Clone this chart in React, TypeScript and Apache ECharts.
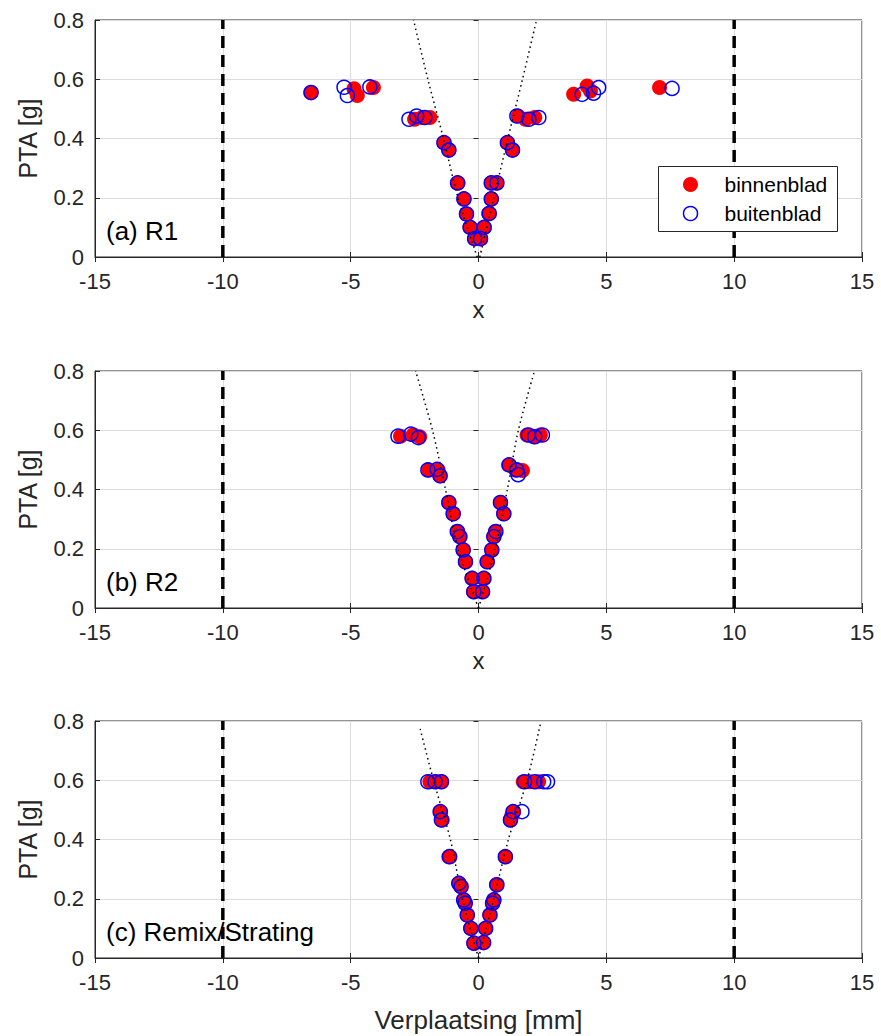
import React, { useEffect, useRef } from "react";
import * as echarts from "echarts";

// Axis ranges / ticks
const X_MIN = -15;
const X_MAX = 15;
const X_STEP = 5;
const Y_MIN = 0;
const Y_MAX = 0.8;
const Y_STEP = 0.2;
const LIMIT_LINES = [-10, 10];

const SERIES_NAMES = ["binnenblad", "buitenblad"];
const PANEL_LABELS = ["(a) R1", "(b) R2", "(c) Remix/Strating"];
const X_NAMES = ["x", "x", "Verplaatsing [mm]"];
const Y_NAME = "PTA [g]";

// Panel (a) R1
const P1_RED = [
  [-6.55, 0.555], [-4.87, 0.568], [-4.74, 0.545], [-4.11, 0.572],
  [-2.5, 0.465], [-2.2, 0.471], [-1.9, 0.471], [-1.35, 0.386], [-1.16, 0.361],
  [-0.8, 0.25], [-0.57, 0.196], [-0.47, 0.145], [-0.33, 0.1], [-0.15, 0.062],
  [0.08, 0.062], [0.22, 0.1], [0.4, 0.147], [0.5, 0.196], [0.5, 0.25], [0.7, 0.25],
  [1.13, 0.386], [1.33, 0.361], [1.55, 0.476], [1.84, 0.465], [2.2, 0.471],
  [3.72, 0.549], [4.25, 0.577], [4.38, 0.56], [7.08, 0.572],
];
const P1_BLUE = [
  [-6.55, 0.555], [-5.26, 0.573], [-5.13, 0.545], [-4.25, 0.574],
  [-2.72, 0.465], [-2.42, 0.476], [-2.1, 0.471], [-1.35, 0.386], [-1.16, 0.361],
  [-0.82, 0.25], [-0.57, 0.196], [-0.47, 0.145], [-0.33, 0.1], [-0.15, 0.062],
  [0.08, 0.062], [0.22, 0.1], [0.42, 0.147], [0.5, 0.196], [0.5, 0.25], [0.72, 0.25],
  [1.13, 0.386], [1.33, 0.361], [1.5, 0.476], [1.97, 0.465], [2.36, 0.471],
  [4.05, 0.549], [4.5, 0.553], [4.7, 0.572], [7.57, 0.569],
];
const P1_FIT_L = [[-0.05, 0], [-0.8, 0.2], [-1.37, 0.4], [-1.98, 0.6], [-2.54, 0.8]];
const P1_FIT_R = [[0.05, 0], [0.6, 0.2], [1.15, 0.4], [1.72, 0.6], [2.27, 0.8]];

// Panel (b) R2
const P2_RED = [
  [-3.05, 0.58], [-2.55, 0.585], [-2.3, 0.578], [-1.94, 0.466], [-1.58, 0.466],
  [-1.52, 0.448], [-1.16, 0.356], [-0.99, 0.318], [-0.81, 0.258], [-0.73, 0.241],
  [-0.6, 0.196], [-0.51, 0.156], [-0.25, 0.1], [-0.2, 0.055], [0.14, 0.055],
  [0.21, 0.1], [0.34, 0.156], [0.52, 0.196], [0.6, 0.241], [0.66, 0.258],
  [0.86, 0.356], [0.99, 0.318], [1.18, 0.483], [1.45, 0.466], [1.72, 0.464],
  [1.9, 0.584], [2.16, 0.578], [2.42, 0.584],
];
const P2_BLUE = [
  [-3.15, 0.58], [-2.65, 0.587], [-2.35, 0.575], [-1.98, 0.466], [-1.62, 0.468],
  [-1.5, 0.446], [-1.16, 0.356], [-0.99, 0.318], [-0.83, 0.258], [-0.73, 0.241],
  [-0.6, 0.196], [-0.51, 0.156], [-0.25, 0.1], [-0.18, 0.055], [0.16, 0.055],
  [0.21, 0.1], [0.34, 0.156], [0.52, 0.196], [0.6, 0.241], [0.68, 0.258],
  [0.86, 0.356], [0.99, 0.318], [1.2, 0.483], [1.5, 0.466], [1.55, 0.45],
  [1.95, 0.584], [2.2, 0.578], [2.5, 0.584],
];
const P2_FIT_L = [[0, 0], [-0.8, 0.2], [-1.29, 0.4], [-1.8, 0.6], [-2.46, 0.8]];
const P2_FIT_R = [[0, 0], [0.66, 0.2], [1.13, 0.4], [1.56, 0.6], [2.19, 0.8]];

// Panel (c) Remix/Strating
const P3_RED = [
  [-1.9, 0.595], [-1.65, 0.595], [-1.45, 0.595], [-1.48, 0.494], [-1.42, 0.466],
  [-1.16, 0.342], [-0.77, 0.252], [-0.7, 0.241], [-0.57, 0.196], [-0.52, 0.185],
  [-0.44, 0.145], [-0.31, 0.1], [-0.18, 0.05], [0.18, 0.052], [0.27, 0.1],
  [0.44, 0.145], [0.6, 0.196], [0.55, 0.185], [0.7, 0.247], [1.05, 0.342],
  [1.3, 0.48], [1.38, 0.494], [1.25, 0.466], [1.75, 0.595], [2.0, 0.595], [2.35, 0.595],
];
const P3_BLUE = [
  [-1.98, 0.595], [-1.7, 0.595], [-1.45, 0.595], [-1.5, 0.494], [-1.45, 0.466], [-1.13, 0.342],
  [-0.77, 0.252], [-0.68, 0.241], [-0.58, 0.196], [-0.52, 0.185], [-0.44, 0.145],
  [-0.3, 0.1], [-0.18, 0.05], [0.2, 0.052], [0.28, 0.1], [0.45, 0.145],
  [0.6, 0.196], [0.55, 0.185], [0.72, 0.247], [1.05, 0.342], [1.7, 0.494],
  [1.35, 0.494], [1.25, 0.466], [1.8, 0.595], [2.2, 0.595], [2.55, 0.595], [2.7, 0.595],
];
const P3_FIT_L = [[0, 0], [-0.63, 0.2], [-1.1, 0.4], [-1.76, 0.6], [-2.3, 0.78]];
const P3_FIT_R = [[0, 0], [0.6, 0.2], [1.17, 0.4], [1.9, 0.6], [2.42, 0.79]];

const PANELS = [
  { red: P1_RED, blue: P1_BLUE, fitL: P1_FIT_L, fitR: P1_FIT_R },
  { red: P2_RED, blue: P2_BLUE, fitL: P2_FIT_L, fitR: P2_FIT_R },
  { red: P3_RED, blue: P3_BLUE, fitL: P3_FIT_L, fitR: P3_FIT_R },
];

const GRID_TOPS = [20, 371, 721];
const GRID_H = 237;
const GRID_LEFT = 95;
const GRID_RIGHT = 19;
const FONT = "'Liberation Sans', Arial, sans-serif";
const TEXT_COLOR = "#262626";

export default function App() {
  const ref = useRef<HTMLDivElement>(null);
  useEffect(() => {
    if (!ref.current) return;
    const chart = echarts.init(ref.current, undefined, { renderer: "svg" });

    const grid: any[] = [];
    const xAxis: any[] = [];
    const yAxis: any[] = [];
    const series: any[] = [];
    const graphic: any[] = [];

    PANELS.forEach((p, i) => {
      grid.push({
        left: GRID_LEFT,
        right: GRID_RIGHT,
        top: GRID_TOPS[i],
        height: GRID_H,
        show: true,
        borderColor: TEXT_COLOR,
        borderWidth: 1,
        backgroundColor: "#fff",
      });
      const xi = xAxis.length;
      xAxis.push({
        type: "value",
        gridIndex: i,
        min: X_MIN,
        max: X_MAX,
        interval: X_STEP,
        position: "bottom",
        name: X_NAMES[i],
        nameLocation: "middle",
        nameMoveOverlap: false,
        nameGap: i === 2 ? 48 : 44,
        nameTextStyle: {
          fontFamily: FONT,
          fontSize: i === 2 ? 26 : 24,
          lineHeight: i === 2 ? 28 : 16,
          color: TEXT_COLOR,
          verticalAlign: "top",
        },
        axisLine: { show: true, onZero: false, lineStyle: { color: TEXT_COLOR } },
        axisTick: { show: true, inside: true, length: 5, lineStyle: { color: TEXT_COLOR } },
        axisLabel: { fontFamily: FONT, fontSize: 22, color: TEXT_COLOR, margin: 13 },
        splitLine: { show: true, lineStyle: { color: "#dcdcdc", width: 1 } },
      });
      xAxis.push({
        type: "value",
        gridIndex: i,
        min: X_MIN,
        max: X_MAX,
        interval: X_STEP,
        position: "top",
        axisLine: { show: false },
        axisTick: { show: true, inside: true, length: 5, lineStyle: { color: TEXT_COLOR } },
        axisLabel: { show: false },
        splitLine: { show: false },
      });
      const yi = yAxis.length;
      yAxis.push({
        type: "value",
        gridIndex: i,
        min: Y_MIN,
        max: Y_MAX,
        interval: Y_STEP,
        position: "left",
        name: Y_NAME,
        nameLocation: "middle",
        nameRotate: 90,
        nameGap: 55,
        nameTextStyle: { fontFamily: FONT, fontSize: 25, color: TEXT_COLOR },
        axisLine: { show: true, onZero: false, lineStyle: { color: TEXT_COLOR } },
        axisTick: { show: true, inside: true, length: 5, lineStyle: { color: TEXT_COLOR } },
        axisLabel: { fontFamily: FONT, fontSize: 22, color: TEXT_COLOR, margin: 11 },
        splitLine: { show: true, lineStyle: { color: "#dcdcdc", width: 1 } },
      });
      yAxis.push({
        type: "value",
        gridIndex: i,
        min: Y_MIN,
        max: Y_MAX,
        interval: Y_STEP,
        position: "right",
        axisLine: { show: false },
        axisTick: { show: true, inside: true, length: 5, lineStyle: { color: TEXT_COLOR } },
        axisLabel: { show: false },
        splitLine: { show: false },
      });

      LIMIT_LINES.forEach((lx) => {
        series.push({
          type: "line",
          xAxisIndex: xi,
          yAxisIndex: yi,
          data: [[lx, Y_MIN], [lx, Y_MAX]],
          symbol: "none",
          silent: true,
          lineStyle: { color: "#000", width: 3.5, type: [12, 7] },
          z: 3,
        });
      });

      series.push({
        type: "scatter",
        name: SERIES_NAMES[0],
        xAxisIndex: xi,
        yAxisIndex: yi,
        data: p.red,
        symbol: "circle",
        symbolSize: 15,
        itemStyle: { color: "#ff0000", opacity: 1 },
        z: 4,
      });
      series.push({
        type: "scatter",
        name: SERIES_NAMES[1],
        xAxisIndex: xi,
        yAxisIndex: yi,
        data: p.blue,
        symbol: "circle",
        symbolSize: 14,
        itemStyle: { color: "transparent", borderColor: "#0000ff", borderWidth: 1.5, opacity: 1 },
        z: 5,
      });
      [p.fitL, p.fitR].forEach((fit) => {
        series.push({
          type: "line",
          xAxisIndex: xi,
          yAxisIndex: yi,
          data: fit,
          symbol: "none",
          smooth: 0.3,
          silent: true,
          lineStyle: { color: "#000", width: 1.5, type: [1.5, 3.5] },
          z: 6,
        });
      });

      graphic.push({
        type: "text",
        left: 106,
        top: GRID_TOPS[i] + GRID_H - 39,
        z: 100,
        style: { text: PANEL_LABELS[i], fontFamily: FONT, fontSize: 26, fill: "#000" },
      });
    });

    // Legend box (panel a)
    const LZ = 200;
    graphic.push({
      type: "group",
      left: 658,
      top: 166,
      z: LZ,
      children: [
        { type: "rect", z: LZ, shape: { x: 0, y: 0, width: 179, height: 65 }, style: { fill: "#fff", stroke: TEXT_COLOR, lineWidth: 1 } },
        { type: "circle", z: LZ + 1, shape: { cx: 32, cy: 18, r: 7.5 }, style: { fill: "#ff0000" } },
        { type: "circle", z: LZ + 1, shape: { cx: 32, cy: 47, r: 7 }, style: { fill: "none", stroke: "#0000ff", lineWidth: 1.5 } },
        { type: "text", z: LZ + 1, x: 66, y: 18, style: { text: SERIES_NAMES[0], fontFamily: FONT, fontSize: 21, fill: "#000", verticalAlign: "middle" } },
        { type: "text", z: LZ + 1, x: 66, y: 47, style: { text: SERIES_NAMES[1], fontFamily: FONT, fontSize: 21, fill: "#000", verticalAlign: "middle" } },
      ],
    });

    chart.setOption({
      animation: false,
      backgroundColor: "#fff",
      grid,
      xAxis,
      yAxis,
      series,
      graphic,
    });
    return () => chart.dispose();
  }, []);

  return (
    <div
      ref={ref}
      style={{ position: "absolute", left: 0, top: 0, width: 881, height: 1036, background: "#fff" }}
    />
  );
}
